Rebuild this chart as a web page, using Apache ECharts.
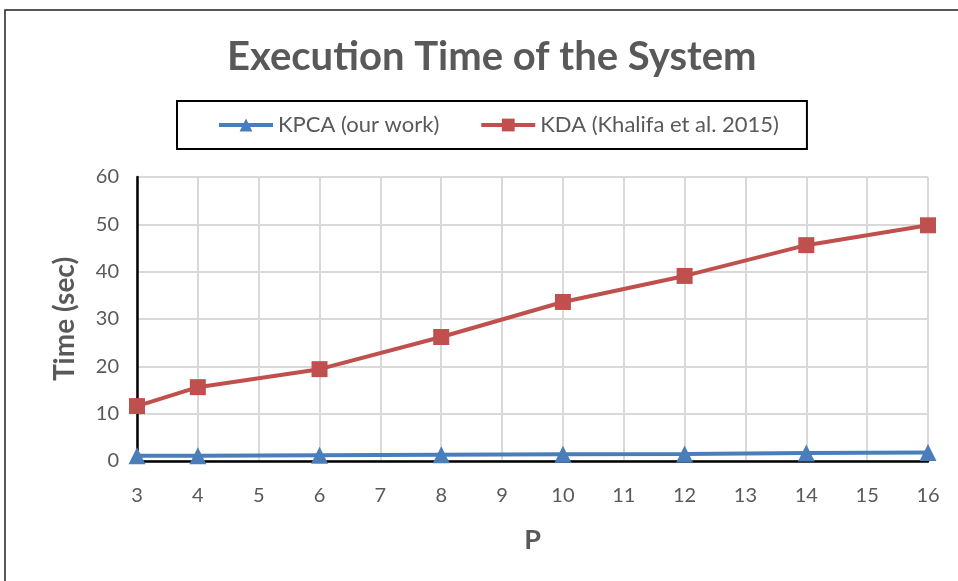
<!DOCTYPE html>
<html>
<head>
<meta charset="utf-8">
<script src="https://cdn.jsdelivr.net/npm/echarts@6/dist/echarts.min.js"></script>
<style>
  html, body { margin: 0; padding: 0; background: #fff; }
  #chart { width: 958px; height: 581px; }
</style>
</head>
<body>
<div id="chart"></div>
<script>
const pValues = [3, 4, 6, 8, 10, 12, 14, 16];
const kpcaTimes = [1.1, 1.1, 1.2, 1.3, 1.4, 1.5, 1.7, 1.8];
const kdaTimes = [11.6, 15.6, 19.4, 26.2, 33.6, 39.1, 45.6, 49.8];
const seriesNames = ['KPCA (our work)', 'KDA (Khalifa et al. 2015)'];

const font = 'Lato, "Open Sans", sans-serif';
const grey = '#595959';

const pair = (xs, ys) => xs.map((x, i) => [x, ys[i]]);

const chart = echarts.init(document.getElementById('chart'));
chart.setOption({
  animation: false,
  backgroundColor: '#fff',
  title: {
    text: 'Execution Time of the System',
    left: 222,
    top: 32,
    textStyle: { fontFamily: font, fontSize: 40, fontWeight: 'bold', color: grey }
  },
  graphic: [{
    type: 'rect',
    shape: { x: 5, y: 10, width: 1000, height: 700 },
    style: { fill: 'none', stroke: '#222', lineWidth: 1.5 },
    silent: true
  }],
  legend: {
    data: seriesNames,
    left: 177,
    top: 101,
    padding: [13, 28, 13, 40],
    borderColor: '#000',
    borderWidth: 2,
    itemWidth: 54,
    itemHeight: 16,
    itemGap: 40,
    lineStyle: { width: 4 },
    textStyle: { fontFamily: font, fontSize: 22, color: grey }
  },
  grid: { left: 137, right: 30, top: 177, bottom: 120 },
  xAxis: {
    type: 'value',
    min: 3,
    max: 16,
    interval: 1,
    name: 'P',
    nameLocation: 'middle',
    nameGap: 66,
    nameTextStyle: { fontFamily: font, fontSize: 27, fontWeight: 'bold', color: grey },
    axisLine: { lineStyle: { color: '#000', width: 2.5 } },
    axisTick: { show: false },
    axisLabel: { fontFamily: font, fontSize: 20, color: grey, margin: 25 },
    splitLine: { show: true, lineStyle: { color: '#d9d9d9', width: 2 } }
  },
  yAxis: {
    type: 'value',
    min: 0,
    max: 60,
    interval: 10,
    name: 'Time (sec)',
    nameLocation: 'middle',
    nameGap: 58,
    nameTextStyle: { fontFamily: font, fontSize: 28, fontWeight: 'bold', color: grey },
    axisLine: { show: true, lineStyle: { color: '#000', width: 2.5 } },
    axisTick: { show: false },
    axisLabel: { fontFamily: font, fontSize: 20, color: grey, margin: 18 },
    splitLine: { lineStyle: { color: '#d9d9d9', width: 2 } }
  },
  series: [
    {
      name: seriesNames[0],
      type: 'line',
      data: pair(pValues, kpcaTimes),
      symbol: 'triangle',
      symbolSize: 17,
      lineStyle: { color: '#4a7ebb', width: 4 },
      itemStyle: { color: '#4a7ebb' }
    },
    {
      name: seriesNames[1],
      type: 'line',
      data: pair(pValues, kdaTimes),
      symbol: 'rect',
      symbolSize: 16,
      lineStyle: { color: '#c0504d', width: 4 },
      itemStyle: { color: '#c0504d' }
    }
  ]
});
</script>
</body>
</html>
